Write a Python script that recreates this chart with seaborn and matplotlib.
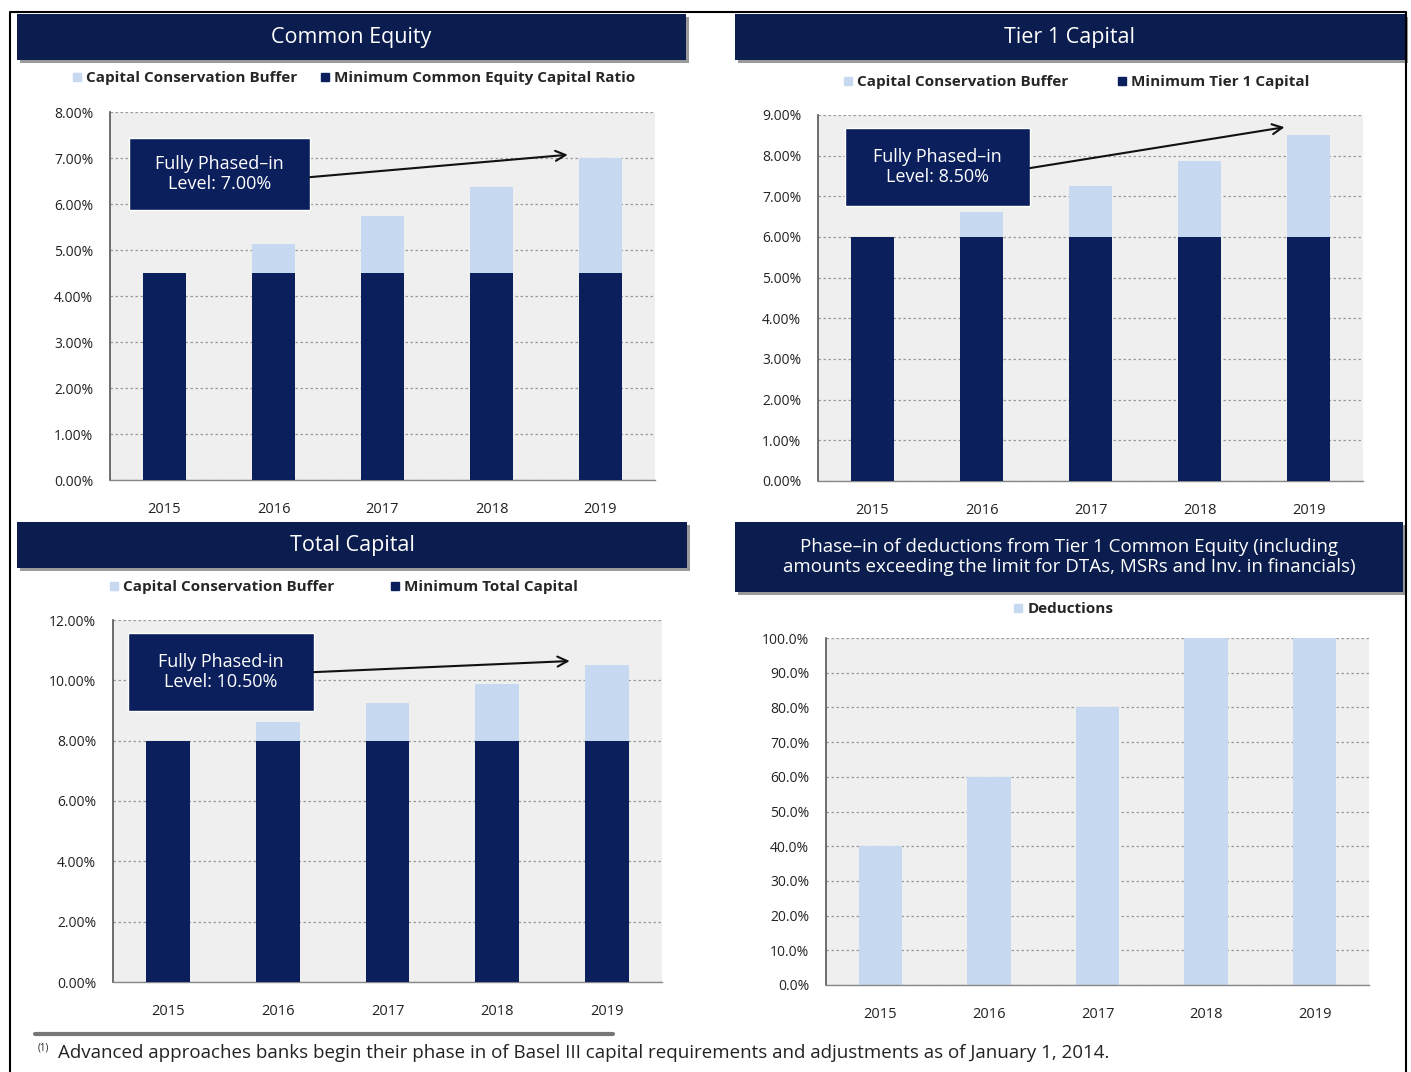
import matplotlib
matplotlib.use("Agg")
import matplotlib.pyplot as plt
import seaborn as sns
import pandas as pd
from matplotlib.patches import Rectangle
from matplotlib.lines import Line2D
from matplotlib.ticker import FuncFormatter, FixedLocator

# ---------------- data ----------------
years = ["2015", "2016", "2017", "2018", "2019"]
ce_minimum = [4.5, 4.5, 4.5, 4.5, 4.5]
ce_total = [4.5, 5.125, 5.75, 6.375, 7.0]
t1_minimum = [6.0, 6.0, 6.0, 6.0, 6.0]
t1_total = [6.0, 6.625, 7.25, 7.875, 8.5]
tc_minimum = [8.0, 8.0, 8.0, 8.0, 8.0]
tc_total = [8.0, 8.625, 9.25, 9.875, 10.5]
deductions = [40.0, 60.0, 80.0, 100.0, 100.0]

NAVY = "#0b1f5c"
HEAD = "#0b1d4e"
LIGHT = "#c6d9f1"
BG = "#efefef"
TXT = "#222222"

sns.set_theme(style="white")
plt.rcParams['font.family'] = ['Open Sans', 'DejaVu Sans']

W, H = 1411, 1072
fig = plt.figure(figsize=(W / 100, H / 100), dpi=100)
fig.patch.set_facecolor("white")


def fx(px):
    return px / W


def fy(py):
    return 1 - py / H


def header(x0, y0, x1, y1, text, fs=15):
    fig.add_artist(Rectangle((fx(x0 + 3), fy(y1 + 3)), fx(x1 - x0), (y1 - y0) / H,
                             transform=fig.transFigure, facecolor="#9a9a9a",
                             edgecolor="none", zorder=1))
    fig.add_artist(Rectangle((fx(x0), fy(y1)), fx(x1 - x0), (y1 - y0) / H,
                             transform=fig.transFigure, facecolor=HEAD,
                             edgecolor="none", zorder=2))
    fig.text(fx((x0 + x1) / 2), fy((y0 + y1) / 2), text, color="white",
             ha="center", va="center", fontsize=fs, zorder=3, linespacing=1.1)


def make_axes(px0, py0, px1, py1):
    ax = fig.add_axes([fx(px0), fy(py1), fx(px1 - px0), (py1 - py0) / H])
    ax.set_facecolor(BG)
    return ax


def style_axes(ax, ymax, ystep, fmt):
    ax.set_xlim(-0.5, 4.5)
    ax.set_ylim(0, ymax)
    ticks = [i * ystep for i in range(int(round(ymax / ystep)) + 1)]
    ax.yaxis.set_major_locator(FixedLocator(ticks))
    ax.yaxis.set_major_formatter(FuncFormatter(fmt))
    ax.set_xlabel("")
    ax.set_ylabel("")
    for t in ticks:
        ax.axhline(t, color="#9a9a9a", lw=0.9, ls=(0, (2, 2)), zorder=0.5)
    for s in ["top", "right"]:
        ax.spines[s].set_visible(False)
    ax.spines["left"].set_color("#555555")
    ax.spines["left"].set_linewidth(1.2)
    ax.spines["bottom"].set_color("#888888")
    ax.spines["bottom"].set_linewidth(1.0)
    ax.tick_params(axis="y", which="major", direction="out", length=4, width=1,
                   color="#555555", labelsize=10, labelcolor=TXT, pad=8)
    ax.tick_params(axis="x", which="major", length=0, labelsize=10.5,
                   labelcolor=TXT, pad=16)
    ax.set_xticks([-0.5, 0.5, 1.5, 2.5, 3.5, 4.5], minor=True)
    ax.tick_params(axis="x", which="minor", direction="out", length=5,
                   width=1, color="#888888")
    ax.set_axisbelow(True)


def stacked(ax, total, minimum):
    df = pd.DataFrame({"year": years, "total": total, "minimum": minimum})
    sns.barplot(data=df, x="year", y="total", color=LIGHT, saturation=1,
                width=0.4, ax=ax, zorder=2, linewidth=0, edgecolor="none")
    sns.barplot(data=df, x="year", y="minimum", color=NAVY, saturation=1,
                width=0.4, ax=ax, zorder=3, linewidth=0, edgecolor="none")


def legend(ax, labels, colors, cx, cy, gap=2.0, fs=11):
    handles = [Line2D([0], [0], marker="s", color="none", markerfacecolor=c,
                      markeredgecolor=c, markersize=6) for c in colors]
    fig.legend(handles, labels, loc="center", bbox_to_anchor=(fx(cx), fy(cy)),
               ncol=len(labels), frameon=False,
               prop={"weight": "bold", "size": fs}, handletextpad=0.1,
               columnspacing=gap, handlelength=1.0)


def callout(ax, bx0, by0, bx1, by1, text, start, end):
    ax.add_patch(Rectangle((bx0, by0), bx1 - bx0, by1 - by0, transform=ax.transAxes,
                           facecolor=NAVY, edgecolor="white", lw=1.0, zorder=6,
                           clip_on=False))
    ax.text((bx0 + bx1) / 2, (by0 + by1) / 2, text, transform=ax.transAxes,
            ha="center", va="center", color="white", fontsize=13, zorder=7,
            linespacing=1.15)
    ax.annotate("", xy=end, xycoords="data", xytext=start, textcoords="axes fraction",
                arrowprops=dict(arrowstyle="->", color="#111111", lw=1.5,
                                mutation_scale=18, shrinkA=0, shrinkB=0),
                zorder=8)


pct2 = lambda v, p: f"{v:.2f}%"
pct1 = lambda v, p: f"{v:.1f}%"

# ---------------- Common Equity ----------------
header(17, 14, 686, 60, "Common Equity", fs=15.5)
ax1 = make_axes(110, 112, 655, 480)
stacked(ax1, ce_total, ce_minimum)
style_axes(ax1, 8, 1, pct2)
legend(ax1, ["Capital Conservation Buffer", "Minimum Common Equity Capital Ratio"],
       [LIGHT, NAVY], 352, 78, gap=1.3)
callout(ax1, 0.035, 0.734, 0.367, 0.929, "Fully Phased–in\nLevel: 7.00%",
        (0.367, 0.823), (3.70, 7.07))

# ---------------- Tier 1 Capital ----------------
header(735, 14, 1405, 60, "Tier 1 Capital", fs=15.5)
ax2 = make_axes(818, 115, 1363, 481)
stacked(ax2, t1_total, t1_minimum)
style_axes(ax2, 9, 1, pct2)
legend(ax2, ["Capital Conservation Buffer", "Minimum Tier 1 Capital"],
       [LIGHT, NAVY], 1075, 82, gap=3.0)
callout(ax2, 0.050, 0.751, 0.389, 0.964, "Fully Phased–in\nLevel: 8.50%",
        (0.389, 0.855), (3.78, 8.70))

# ---------------- Total Capital ----------------
header(17, 522, 687, 568, "Total Capital", fs=15.5)
ax3 = make_axes(113, 620, 662, 982)
stacked(ax3, tc_total, tc_minimum)
style_axes(ax3, 12, 2, pct2)
legend(ax3, ["Capital Conservation Buffer", "Minimum Total Capital"],
       [LIGHT, NAVY], 342, 587, gap=3.5)
callout(ax3, 0.027, 0.749, 0.366, 0.964, "Fully Phased-in\nLevel: 10.50%",
        (0.366, 0.856), (3.66, 10.64))

# ---------------- Deductions ----------------
header(735, 522, 1403, 592,
       "Phase–in of deductions from Tier 1 Common Equity (including\n"
       "amounts exceeding the limit for DTAs, MSRs and Inv. in financials)", fs=13.5)
ax4 = make_axes(826, 638, 1369, 985)
df4 = pd.DataFrame({"year": years, "deductions": deductions})
sns.barplot(data=df4, x="year", y="deductions", color=LIGHT, saturation=1,
            width=0.4, ax=ax4, zorder=2, linewidth=0, edgecolor="none")
style_axes(ax4, 100, 10, pct1)
legend(ax4, ["Deductions"], [LIGHT], 1062, 609)

# ---------------- footnote & frame ----------------
fig.add_artist(Line2D([fx(35), fx(613)], [fy(1034), fy(1034)], color="#777777",
                      lw=3, transform=fig.transFigure))
fig.text(fx(38), fy(1048), "(1)", fontsize=7, color=TXT, va="center", ha="left")
fig.text(fx(58), fy(1053), "Advanced approaches banks begin their phase in of Basel III "
         "capital requirements and adjustments as of January 1, 2014.",
         fontsize=13.5, color=TXT, va="center", ha="left")

fig.add_artist(Line2D([fx(10), fx(10), fx(1406), fx(1406)],
                      [fy(1072), fy(12), fy(12), fy(1072)], color="black", lw=1.5,
                      transform=fig.transFigure))

fig.savefig("out.png", dpi=100)
